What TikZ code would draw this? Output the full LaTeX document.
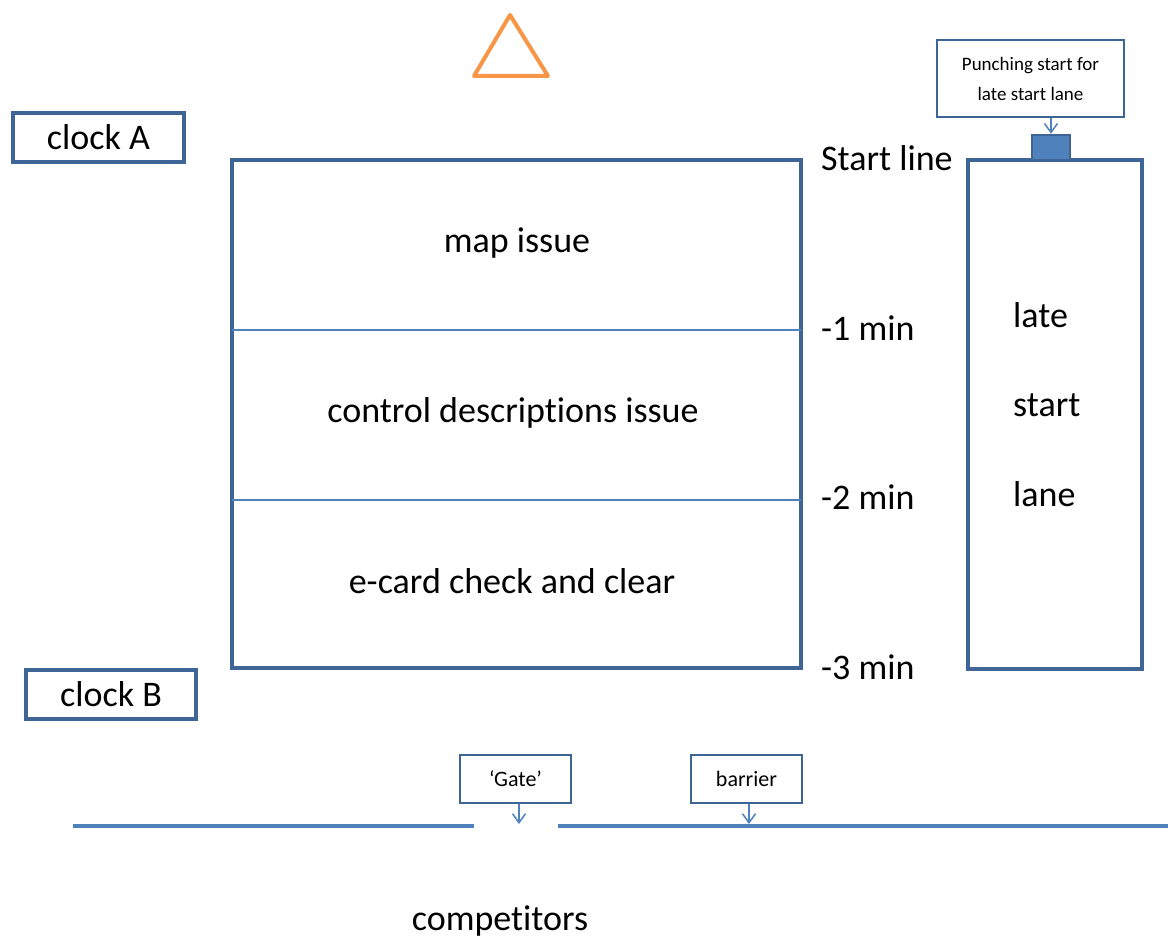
\documentclass[tikz,border=0pt]{standalone}
\usepackage{fontspec}
\setmainfont{Carlito}[Ligatures=NoCommon]
\usetikzlibrary{arrows.meta}
\definecolor{dkb}{HTML}{3F6496}
\definecolor{acc}{HTML}{4F81BD}
\definecolor{org}{HTML}{F79646}
\begin{document}
\begin{tikzpicture}[x=1pt,y=-1pt,
  bigtxt/.style={font=\fontsize{36}{40}\selectfont, inner sep=0pt},
  heavybox/.style={draw=dkb, line width=4pt, fill=white, inner sep=0pt},
  thinbox/.style={draw=dkb, line width=1.6pt, fill=white, inner sep=0pt, align=center},
  smalltxt/.style={font=\fontsize{19}{30}\selectfont},
  pointer/.style={acc, line width=1.5pt, -{Straight Barb[length=9pt,width=13pt]}},
  rail/.style={acc, line width=4pt},
  divider/.style={acc, line width=2pt}]
\useasboundingbox (0,0) rectangle (1168,939);

% triangle
\draw[org, line width=4pt, line join=round] (474,76) -- (510,15) -- (548,76) -- cycle;

% clocks
\node[heavybox, bigtxt, minimum width=171pt, minimum height=49pt] (clockA) at (98.5,137.5) {clock A};
\node[heavybox, bigtxt, minimum width=170pt, minimum height=49pt] (clockB) at (111,694.5) {clock B};

% main box
\node[heavybox, minimum width=569pt, minimum height=508pt] (main) at (516.5,414) {};
\draw[divider] (232,330) -- (801,330);
\draw[divider] (232,500) -- (801,500);
\node[bigtxt] (map) at (517,243) {map issue};
\node[bigtxt] (ctrl) at (513,413) {control descriptions issue};
\node[bigtxt] (ecard) at (512,581) {e-card check and clear};

% time labels
\node[bigtxt, anchor=west] (start) at (821,158) {Start line};
\node[bigtxt, anchor=west] (m1) at (821,328) {-1 min};
\node[bigtxt, anchor=west] (m2) at (821,497) {-2 min};
\node[bigtxt, anchor=west] (m3) at (821,667) {-3 min};

% late start lane
\node[heavybox, minimum width=174pt, minimum height=509pt] (lane) at (1055,414.5) {};
\node[bigtxt, anchor=west] (late) at (1013,315) {late};
\node[bigtxt, anchor=west] (lstart) at (1013,405) {start};
\node[bigtxt, anchor=west] (llane) at (1013,494) {lane};

% punching unit
\node[draw=dkb, fill=acc, line width=2.5pt, inner sep=0pt, minimum width=38pt, minimum height=25pt] (punch) at (1051,147.5) {};
\node[thinbox, smalltxt, minimum width=187pt, minimum height=77pt] (callout) at (1030.5,78.5) {Punching start for\\late start lane};
\draw[pointer] (callout.south -| punch) -- (punch.north);

% barrier line
\coordinate (l1) at (73,826);
\coordinate (l2) at (474,826);
\coordinate (r1) at (558,826);
\coordinate (r2) at (1168,826);
\draw[rail] (l1) -- (l2);
\draw[rail] (r1) -- (r2);

\node[thinbox, font=\fontsize{22}{26}\selectfont, minimum width=111pt, minimum height=48pt] (gate) at (515.5,779) {‘Gate’};
\node[thinbox, font=\fontsize{22}{26}\selectfont, minimum width=111pt, minimum height=48pt] (barrier) at (746.5,779) {barrier};
\coordinate (gp) at (519,824);
\coordinate (bp) at (749,824);
\draw[pointer] (gate.south -| gp) -- (gp);
\draw[pointer] (barrier.south -| bp) -- (bp);

\node[bigtxt] (comp) at (500,921) {competitors};
\end{tikzpicture}
\end{document}
